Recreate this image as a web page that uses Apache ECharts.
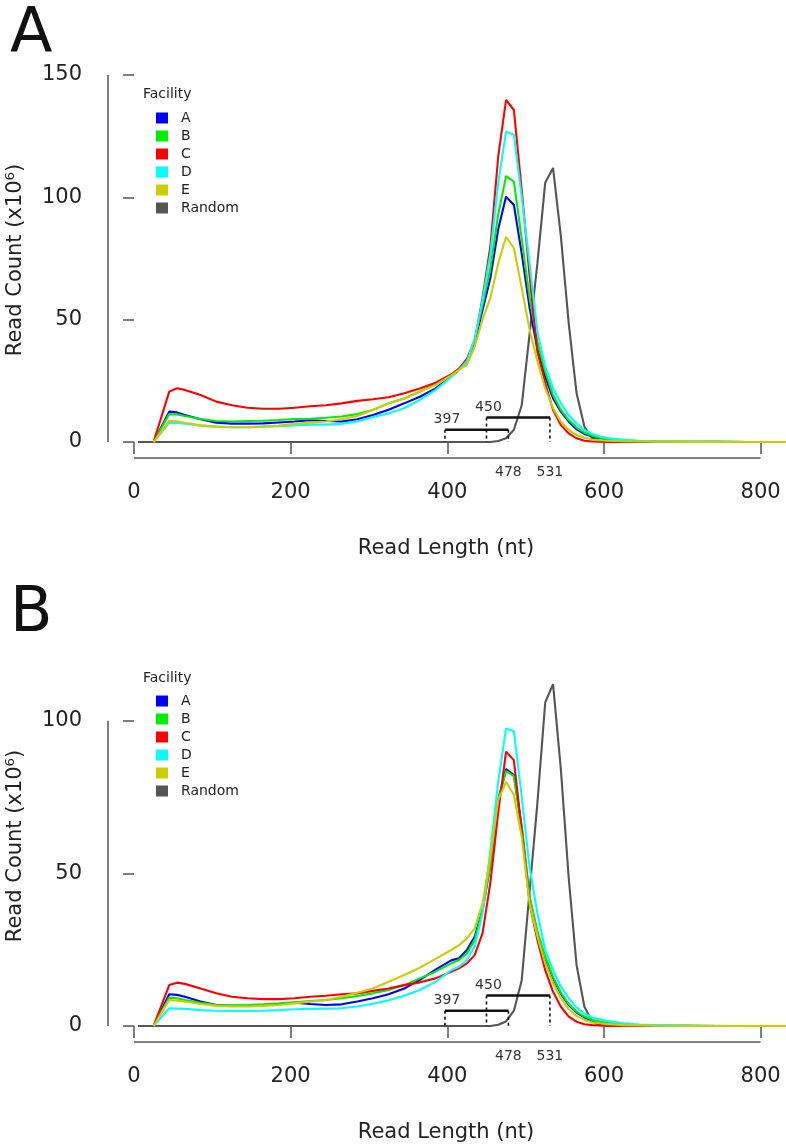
<!DOCTYPE html>
<html><head><meta charset="utf-8">
<script src="https://cdn.jsdelivr.net/npm/echarts@6/dist/echarts.min.js"></script>
<style>html,body{margin:0;padding:0;background:#fff}#c{width:786px;height:1145px}</style>
</head><body><div id="c"></div>
<script>
// ---- data ----
const READ_LENGTH = [5,15,25,45,55,65,85,105,125,145,165,185,205,225,245,265,285,305,325,345,365,385,405,415,425,435,445,455,465,475,485,495,505,515,525,535,545,555,565,575,585,595,605,625,645,665,705,745,785,835];
const FACILITIES = ['A','B','C','D','E','Random'];
const RANDOM = [0,0,0,0,0,0,0,0,0,0,0,0,0,0,0,0,0,0,0,0,0,0,0,0,0,0,0,0,
  0.4,1.5,5,15,44,73,106,112,84,48.5,20,6.3,1.5,0.3,0, 0,0,0,0,0,0,0];
// Panel A
const PA_A = [null,null,0, 12.4,12.1,11.0, 9.3,7.9,7.5,7.5,7.6,8.0,8.4,8.9,8.6,8.4,9.3,11.0,13.2,15.8,18.5,21.9,
  26.8,29.5,33,41,54,67,87,100.3,96.9,77,55,38,26.7,17.8,12.4,8.3,5.2,3.3,2.2,1.5,1.0, 0.5,0.3,0.2,0.1,0.05,0,0];
const PA_B = [null,null,0, 11.4,11.3,10.6, 9.4,8.6,8.4,8.6,8.7,9.0,9.4,9.5,9.9,10.4,11.4,13.1,15.8,17.8,20.6,23.7,
  27.5,30,33.5,42,56,71,93,108.7,106.4,83,59,41,28.7,19.2,13.1,9.0,5.9,3.8,2.5,1.7,1.2, 0.6,0.4,0.2,0.1,0.05,0,0];
const PA_C = [null,null,0, 20.6,22.0,21.3, 19.2,16.5,15.0,14.0,13.6,13.6,14.0,14.6,15.0,15.8,16.8,17.5,18.3,19.9,21.9,24.2,
  27.6,30,34,41,59,80,116.6,139.8,135.7,103,68,37,24,13.1,6.9,3.5,1.5,0.5,0.2,0.1,0, 0,0,0,0,0,0,0];
const PA_D = [null,null,0, 7.9,7.8,7.5, 6.7,6.3,6.0,6.0,6.3,6.5,6.8,7.1,7.1,7.4,8.4,10.2,11.7,13.8,17.2,21.3,
  26.5,29.5,33,42,58,77,106,126.8,125.6,100,73,45,30.8,21.9,15.8,11,7.6,4.9,3.3,2.2,1.6, 0.9,0.5,0.3,0.1,0.05,0,0];
const PA_E = [null,null,0, 8.6,8.5,7.9, 6.8,6.3,6.0,6.0,6.3,6.7,7.4,7.9,8.4,9.3,10.6,13.1,15.8,17.8,20.6,23.3,
  27.2,29.5,31.5,39,50,59,73,83.9,79.2,63,46,33,21.9,13.8,8.3,4.9,2.9,1.8,0.9,0.7,0.5, 0.3,0.2,0.1,0.05,0,0,0];
// Panel B
const PB_A = [null,null,0, 10.4,10.2,9.6, 8.0,6.9,6.6,6.6,6.9,7.2,7.6,7.2,6.9,7.1,8.0,9.1,10.4,12.3,15.1,18.5,
  21.5,22.2,24.9,29.3,38,53,74,84.2,82.2,65,42,30.4,22.2,15.6,10.5,6.9,4.4,2.8,1.7,1.3,0.9, 0.4,0.2,0.1,0.05,0,0,0];
const PB_B = [null,null,0, 9.3,9.1,8.5, 7.6,6.9,6.8,6.9,7.1,7.4,7.8,8.2,8.5,9.1,9.8,10.7,11.8,13.4,15.6,17.8,
  20.5,21.6,23.8,28.2,38,53,74,83.5,81.9,65.3,42.4,30.9,22.7,16.1,10.9,7.2,4.7,3.1,2.0,1.4,1.0, 0.5,0.3,0.1,0.05,0,0,0];
const PB_C = [null,null,0, 13.4,14.2,13.8, 12.3,10.7,9.6,9.1,8.8,8.8,9.1,9.6,9.9,10.4,10.7,11.5,12.3,13.4,14.3,15.6,
  17.8,18.9,20.5,23.3,30.4,47,70,89.9,87.1,64.2,40.2,28.2,18.3,11.2,6.3,3.1,1.4,0.6,0.3,0.2,0.1, 0,0,0,0,0,0,0];
const PB_D = [null,null,0, 5.8,5.7,5.6, 5.2,5.0,4.9,4.9,5.0,5.2,5.5,5.6,5.7,5.8,6.4,7.3,8.4,9.9,11.8,14.5,
  18.3,19.4,21.6,26,36.9,57.6,80,97.5,96.6,75.1,52,37,24.9,18.3,12.9,9.1,6.1,4.1,2.8,2.2,1.6, 0.9,0.5,0.3,0.1,0.05,0,0];
const PB_E = [null,null,0, 8.5,8.3,8.0, 7.2,6.6,6.4,6.4,6.6,6.9,7.4,8.0,8.5,9.6,10.9,12.3,14.5,16.7,19.1,22.0,
  24.9,26.5,28.7,32,40.2,55.5,74,80.0,75.7,62,40.2,29.3,20.5,14.0,9.1,5.5,3.3,2.0,1.2,0.9,0.6, 0.3,0.2,0.1,0,0,0,0];
// ticks and annotations
const X_TICKS = [0,200,400,600,800];
const Y_TICKS_A = [0,50,100,150];
const Y_TICKS_B = [0,50,100];
const BRACKET_START = [397,450];
const BRACKET_END = [478,531];
const BRACKET_Y = [5,10];

// ---- styles ----
const FONT = 'DejaVu Sans';
const COLORS = ['#0000FF','#00EE00','#FF0000','#00FFFF','#CDCD00','#555555'];
const panels = [
  {grid:{left:134,right:0,top:75,bottom:703}, ymax:150, yTicks:Y_TICKS_A,
   vals:[PA_A,PA_B,PA_C,PA_D,PA_E,RANDOM], letter:'A', letterY:36, facY:94, legTop:109, ytY:260, xtY:549},
  {grid:{left:134,right:0,top:675,bottom:119}, ymax:115, yTicks:Y_TICKS_B,
   vals:[PB_A,PB_B,PB_C,PB_D,PB_E,RANDOM], letter:'B', letterY:615, facY:678, legTop:692, ytY:846, xtY:1133}
];
const chart = echarts.init(document.getElementById('c'), null, {renderer:'canvas'});
const series = [];
panels.forEach((p,i)=>{
  // random first (drawn beneath), then facilities
  [5,0,1,2,3,4].forEach(k=>{
    series.push({type:'line', name:FACILITIES[k], xAxisIndex:i, yAxisIndex:i,
      data: READ_LENGTH.map((x,j)=>[x, p.vals[k][j]]),
      symbol:'none', showSymbol:false, clip:false, silent:true,
      lineStyle:{color:COLORS[k], width:2.1}, itemStyle:{color:COLORS[k]}});
  });
  BRACKET_START.forEach((s,b)=>{
    series.push({type:'line', xAxisIndex:i, yAxisIndex:i, symbol:'none', silent:true, clip:false,
      data:[[s,BRACKET_Y[b]],[BRACKET_END[b],BRACKET_Y[b]]],
      lineStyle:{color:'#111', width:2.4}, z:5});
    [s, BRACKET_END[b]].forEach(x=>{
      series.push({type:'line', xAxisIndex:i, yAxisIndex:i, symbol:'none', silent:true, clip:false,
        data:[[x,BRACKET_Y[b]],[x,0]],
        lineStyle:{color:'#111', width:1.6, type:[3,3]}, z:5});
    });
  });
});
const axisText = {fontFamily:FONT, fontSize:21, color:'#222'};
chart.setOption({
  animation:false,
  backgroundColor:'#fff',
  grid: panels.map(p=>p.grid),
  xAxis: panels.map((p,i)=>({type:'value', gridIndex:i, min:0, max:832.4, interval:200, offset:16,
    axisLine:{show:false}, splitLine:{show:false},
    axisTick:{show:true, length:12, customValues:X_TICKS, lineStyle:{color:'#555', width:1.5}},
    axisLabel:Object.assign({margin:24, customValues:X_TICKS}, axisText)})),
  yAxis: panels.map((p,i)=>({type:'value', gridIndex:i, min:0, max:p.ymax, interval:50, offset:26,
    axisLine:{show:false}, splitLine:{show:false},
    axisTick:{show:true, length:11, customValues:p.yTicks, lineStyle:{color:'#555', width:1.5}},
    axisLabel:Object.assign({margin:26, customValues:p.yTicks}, axisText)})),
  legend: panels.map(p=>({data:FACILITIES, orient:'vertical', left:156, top:p.legTop, padding:0,
    itemWidth:12, itemHeight:11, itemGap:0, icon:'rect', selectedMode:false,
    textStyle:{fontFamily:FONT, fontSize:14, color:'#222', lineHeight:18, padding:[0,0,0,8]}})),
  series: series
});
// ---- non-data furniture placed from the axes' own scales ----
const g = [];
panels.forEach((p,i)=>{
  const P = v => chart.convertToPixel({gridIndex:i}, v);
  const y0 = P([0,0])[1];
  const x0 = P([0,0])[0];
  const yTop = P([0,p.yTicks[p.yTicks.length-1]])[1];
  const xEnd = P([X_TICKS[X_TICKS.length-1],0])[0];
  const lineSt = {stroke:'#555', lineWidth:1.5};
  g.push({type:'line', silent:true, shape:{x1:x0-26, y1:y0, x2:x0-26, y2:yTop}, style:lineSt});
  g.push({type:'line', silent:true, shape:{x1:x0, y1:y0+16, x2:xEnd, y2:y0+16}, style:lineSt});
  // bracket labels
  BRACKET_START.forEach((s,b)=>{
    const q = P([s,BRACKET_Y[b]]);
    g.push({type:'text', silent:true, x:q[0]+2, y:q[1]-10,
      style:{text:String(s), fontFamily:FONT, fontSize:14, fill:'#333', align:'center', verticalAlign:'middle'}});
    const e = P([BRACKET_END[b],0]);
    g.push({type:'text', silent:true, x:e[0], y:y0+30,
      style:{text:String(BRACKET_END[b]), fontFamily:FONT, fontSize:14, fill:'#333', align:'center', verticalAlign:'middle'}});
  });
  // titles
  g.push({type:'text', silent:true, x:10, y:p.letterY,
    style:{text:p.letter, fontFamily:FONT, fontSize:62, fill:'#111', align:'left', verticalAlign:'middle'}});
  g.push({type:'text', silent:true, x:143, y:p.facY,
    style:{text:'Facility', fontFamily:FONT, fontSize:14, fill:'#222', align:'left', verticalAlign:'middle'}});
  g.push({type:'text', silent:true, x:16, y:p.ytY, rotation:Math.PI/2,
    style:{text:'Read Count (x10\u2076)', fontFamily:FONT, fontSize:21, fill:'#222', align:'center', verticalAlign:'middle'}});
  g.push({type:'text', silent:true, x:446, y:p.xtY,
    style:{text:'Read Length (nt)', fontFamily:FONT, fontSize:21, fill:'#222', align:'center', verticalAlign:'middle'}});
});
chart.setOption({graphic:g});
</script>
</body></html>
